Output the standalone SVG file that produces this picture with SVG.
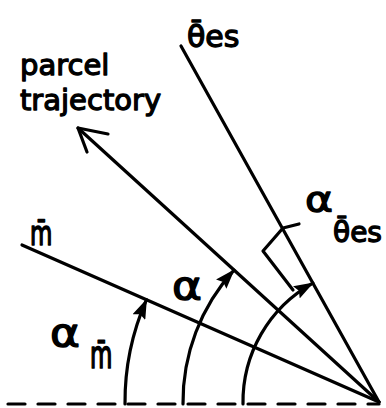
<svg xmlns="http://www.w3.org/2000/svg" width="386" height="408" viewBox="0 0 386 408">
<style>
.ln{fill:none;stroke:#000;stroke-width:3.2;stroke-linecap:round;stroke-linejoin:round}
.t{font-family:"DejaVu Sans","Liberation Sans",sans-serif;fill:#000;stroke:#000;stroke-width:1.3;stroke-linejoin:round}
</style>
<defs>
<marker id="fa" viewBox="0 0 20 14" refX="19" refY="7" markerWidth="20" markerHeight="14" markerUnits="userSpaceOnUse" orient="auto">
<path d="M0,0 L20,7 L0,14 L3,7 Z" fill="#000"/>
</marker>
</defs>
<rect width="386" height="408" fill="#fff"/>
<g id="connectors">
<line class="ln" x1="8" y1="404" x2="379" y2="404" stroke-dasharray="17 13" stroke-linecap="butt"/>
<line id="theta-line" class="ln" x1="379" y1="402" x2="181" y2="46"/>
<line id="m-line" class="ln" x1="379" y1="402" x2="22" y2="245"/>
<line id="trajectory" class="ln" x1="379" y1="402" x2="78" y2="128"/>
<polyline class="ln" points="108,134 78,128 87,152"/>
<path class="ln" d="M125,404 A254,254 0 0 1 146.5,299.7" marker-end="url(#fa)"/>
<path class="ln" d="M183,404 A196,196 0 0 1 234,270.1" marker-end="url(#fa)"/>
<path class="ln" d="M243,404 A136,136 0 0 1 312.9,283.1" marker-end="url(#fa)"/>
<polyline class="ln" points="293,290 263,251 283,228 299,224"/>
</g>
<g id="label-parcel">
<text class="t" x="20" y="75" font-size="29">parcel</text>
<text class="t" x="20" y="110" font-size="29">trajectory</text>
</g>
<g id="label-theta-es">
<text class="t" x="187" y="47" font-size="30">θ̄es</text>
</g>
<g id="label-m">
<text class="t" transform="translate(30,245) scale(0.82,1.2)" font-size="28">m̄</text>
</g>
<g id="label-alpha-m">
<text class="t" x="50" y="346" font-size="38" textLength="30" lengthAdjust="spacingAndGlyphs">α</text>
<text class="t" transform="translate(90,368) scale(0.82,1.3)" font-size="28">m̄</text>
</g>
<g id="label-alpha">
<text class="t" x="172" y="299" font-size="38" textLength="30" lengthAdjust="spacingAndGlyphs">α</text>
</g>
<g id="label-alpha-theta">
<text class="t" x="305" y="212" font-size="36" textLength="28" lengthAdjust="spacingAndGlyphs">α</text>
<text class="t" x="333" y="242" font-size="28">θ̄es</text>
</g>
</svg>
